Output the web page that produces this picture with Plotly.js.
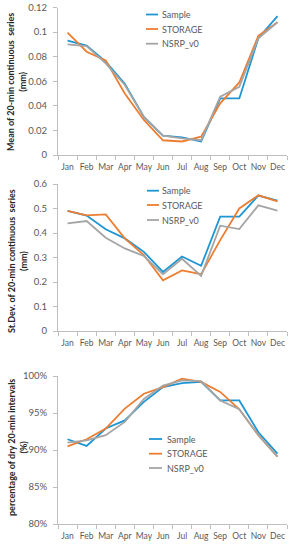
<!DOCTYPE html>
<html>
<head>
<meta charset="utf-8">
<script src="https://cdn.plot.ly/plotly-3.0.1.min.js"></script>
<style>html,body{margin:0;padding:0;background:#fff}#chart{width:297px;height:550px}</style>
</head>
<body>
<div id="chart"></div>
<script>
const months = ["Jan","Feb","Mar","Apr","May","Jun","Jul","Aug","Sep","Oct","Nov","Dec"];
const seriesNames = ["Sample","STORAGE","NSRP_v0"];

const meanSample  = [0.093,0.089,0.076,0.058,0.031,0.0157,0.0144,0.011,0.046,0.046,0.095,0.113];
const meanStorage = [0.0995,0.084,0.077,0.050,0.0285,0.012,0.011,0.0149,0.042,0.059,0.097,0.108];
const meanNsrp    = [0.090,0.0886,0.0745,0.057,0.031,0.0157,0.0136,0.012,0.0474,0.0555,0.095,0.108];

const sdSample  = [0.490,0.471,0.415,0.378,0.323,0.241,0.304,0.266,0.467,0.467,0.553,0.532];
const sdStorage = [0.490,0.472,0.476,0.378,0.310,0.207,0.247,0.232,0.371,0.500,0.554,0.529];
const sdNsrp    = [0.439,0.449,0.381,0.337,0.306,0.231,0.295,0.225,0.430,0.416,0.513,0.491];

const drySample  = [91.45,90.55,92.9,94.0,96.5,98.5,99.05,99.2,96.7,96.7,92.4,89.5];
const dryStorage = [90.5,91.45,92.9,95.6,97.6,98.5,99.65,99.2,97.85,95.5,92.0,89.1];
const dryNsrp    = [91.0,91.3,92.0,93.8,96.9,98.7,99.4,99.3,96.7,95.5,92.0,89.1];

const yTitles = ["Mean of 20-min continuous  series<br>(mm)",
                 "St.Dev. of 20-min continuous  series<br>(mm)",
                 "percentage of dry 20-min intervals<br>(%)"];

const colors = ["#1F96D4","#ED7D31","#A5A5A5"];
const FONT = "Lato, 'Liberation Sans', sans-serif";
const tickColor = "#595959";

const panels = [
  {data:[meanSample,meanStorage,meanNsrp], yaxis:"y",  xaxis:"x"},
  {data:[sdSample,sdStorage,sdNsrp],       yaxis:"y2", xaxis:"x2"},
  {data:[drySample,dryStorage,dryNsrp],    yaxis:"y3", xaxis:"x3"}
];

const traces = [];
panels.forEach(p => {
  p.data.forEach((vals, i) => {
    traces.push({
      x: months, y: vals, type: "scatter", mode: "lines",
      name: seriesNames[i], xaxis: p.xaxis, yaxis: p.yaxis, showlegend:false,
      line: {color: colors[i], width: 1.8}
    });
  });
});

const H = 550, L = 58, PW = 229;
function dom(topPx, botPx){ return [1 - botPx/H, 1 - topPx/H]; }
function px(xp){ return (xp - L)/PW; }
function py(yp){ return 1 - yp/H; }

function xax(anchor){
  return {
    anchor: anchor, domain:[0,1], type:"category", range:[-0.5,11.5],
    showline:true, linecolor:"#BFBFBF", linewidth:1,
    ticks:"outside", tickson:"boundaries", ticklen:4, tickcolor:"#BFBFBF",
    showgrid:false, zeroline:false, automargin:false, tickangle:0,
    ticklabelstandoff:4,
    tickfont:{family:FONT, size:8.5, color:tickColor}
  };
}
function yax(anchor, domain, range, dtick, fmt, suffix){
  return {
    anchor: anchor, domain: domain, range: range, dtick: dtick, tick0: range[0],
    showline:true, linecolor:"#BFBFBF", linewidth:1,
    ticks:"outside", ticklen:4, tickcolor:"#BFBFBF",
    showgrid:false, zeroline:false, automargin:false,
    ticklabelstandoff:4,
    tickformat: fmt, ticksuffix: suffix,
    tickfont:{family:FONT, size:9.5, color:tickColor}
  };
}

const annFont = {family:FONT, size:9, color:"#262626"};
function ann(yPx, text){
  return {xref:"paper", yref:"paper", x:px(17), y:py(yPx),
          xanchor:"center", yanchor:"middle", textangle:-90,
          text:"<b>"+text+"</b>", showarrow:false, font:annFont};
}

// manual legends: [lineStartX, lineEndX, textX, [row y's]]
const legends = [
  [146,158,160,[14.5,29,43.7]],
  [147,159,160,[190.7,205,220]],
  [149,162,165,[439,453.7,468]]
];
const shapes = [];
const annotations = [ann(82,yTitles[0]), ann(261,yTitles[1]), ann(448,yTitles[2])];
legends.forEach(lg => {
  lg[3].forEach((yy, i) => {
    shapes.push({type:"line", xref:"paper", yref:"paper",
      x0:px(lg[0]), x1:px(lg[1]), y0:py(yy), y1:py(yy),
      line:{color:colors[i], width:1.8}});
    annotations.push({xref:"paper", yref:"paper", x:px(lg[2]), y:py(yy),
      xanchor:"left", yanchor:"middle", showarrow:false, text:seriesNames[i],
      font:{family:FONT, size:9, color:tickColor}});
  });
});

const layout = {
  width:297, height:550,
  margin:{l:L, r:10, t:0, b:0},
  paper_bgcolor:"#fff", plot_bgcolor:"#fff",
  font:{family:FONT},
  xaxis: xax("y"), xaxis2: xax("y2"), xaxis3: xax("y3"),
  yaxis:  yax("x",  dom(7.5,155), [0,0.12], 0.02, "", ""),
  yaxis2: yax("x2", dom(184,331), [0,0.6], 0.1, "", ""),
  yaxis3: yax("x3", dom(376,524), [80,100], 5, "d", "%"),
  shapes: shapes,
  annotations: annotations,
  showlegend:false
};

Plotly.newPlot("chart", traces, layout, {displayModeBar:false, staticPlot:true});
</script>
</body>
</html>
